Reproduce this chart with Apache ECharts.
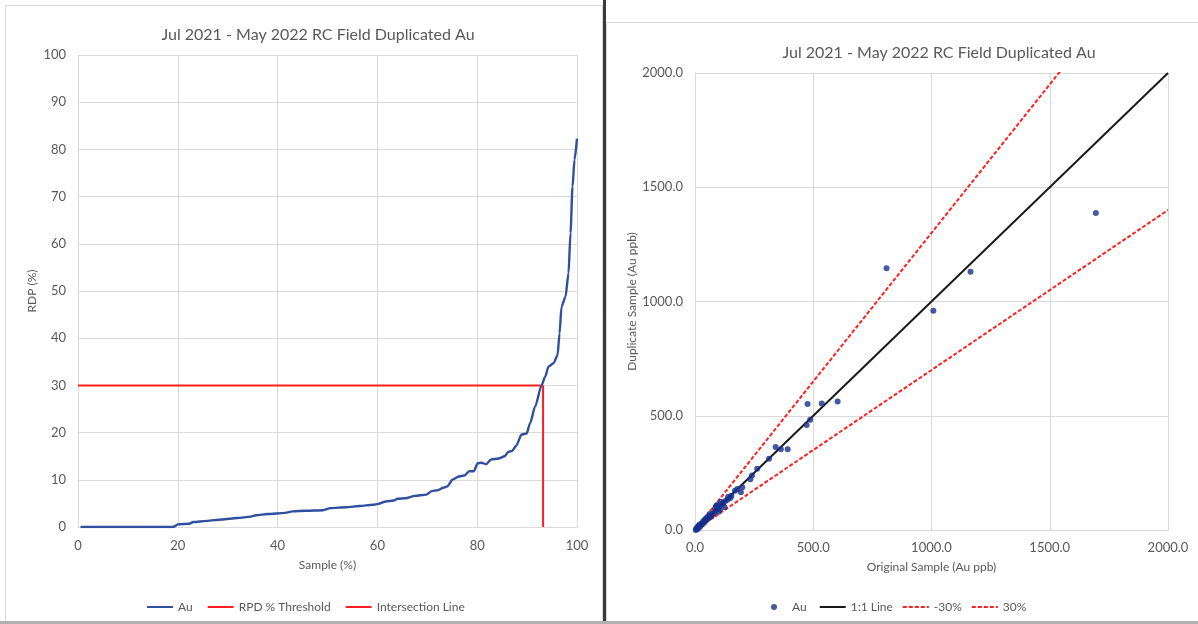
<!DOCTYPE html>
<html>
<head>
<meta charset="utf-8">
<script src="https://cdn.jsdelivr.net/npm/echarts@6/dist/echarts.min.js"></script>
<style>
  html, body { margin: 0; padding: 0; background: #ffffff; }
  #chart { width: 1198px; height: 624px; }
</style>
</head>
<body>
<div id="chart"></div>
<script>
// ---- Data ----
const chartTitle = 'Jul 2021 - May 2022 RC Field Duplicated Au';

// Cumulative RPD curve: [sample %, RPD %]
const auRpd = [
  [0.5,0],[5,0],[10,0],[15,0],[18.9,0],[19.3,0.1],[20,0.55],[22.3,0.7],[23.1,1.05],
  [25.8,1.3],[28.8,1.6],[31.9,1.9],[34.6,2.2],[35.7,2.5],[38,2.75],[41.5,3.0],
  [43,3.3],[45.7,3.45],[49.1,3.55],[50.6,4.0],[53.7,4.2],[56.4,4.45],[59.1,4.7],
  [60.2,4.9],[61.7,5.4],[63.3,5.6],[64,6.0],[65.6,6.1],[67.5,6.6],[69.8,6.85],
  [70.9,7.6],[72.1,7.8],[73.2,8.3],[74,8.6],[75.1,10.1],[76.3,10.7],[77.4,10.9],
  [78.4,11.8],[79.3,11.8],[80.1,13.5],[80.9,13.6],[81.8,13.3],[82.8,14.3],
  [84.3,14.5],[85.5,15.0],[86.2,15.9],[87,16.1],[87.8,17.2],[88.9,19.6],
  [89.9,19.8],[90.6,22],[91.6,25.5],[92.9,30],[93.6,31.8],[94.3,34],[95.3,34.7],
  [96.1,36.4],[96.5,41],[96.9,46.7],[97.7,48.8],[98.3,53.8],[98.7,62.3],
  [99.1,72.1],[99.5,77.8],[100,82.3]
];
const rpdThreshold = [[0,30],[93.2,30]];
const intersectionLine = [[93.2,0],[93.2,30]];
const pctTicks = { xInterval: 20, yInterval: 10, max: 100 };

// Original vs duplicate Au (ppb)
const auPairs = [
  [1695,1387],[810,1145],[1165,1130],[1008,960],[476,551],[536,554],[603,562],
  [472,459],[487,482],[341,363],[363,353],[392,353],[313,312],[263,268],[241,238],
  [234,222],[200,187],[194,165],[179,179],[169,172],[154,150],[139,135],[130,128],
  [115,113],[101,99],[90,106],[87,84],[104,91],[120,118],[110,124],[96,110],
  [80,76],[73,69],[66,62],[59,54],[52,47],[45,40],[38,32],[31,25],[24,18],[17,10],
  [10,3],[3,0],[5,6],[12,14],[20,24],[28,30],[42,46],[55,58],[62,70],[70,60],
  [85,95],[125,100],[100,80],[140,145],[150,140],[8,9],[15,19],[35,38],[48,52]
];
const oneToOne = [[0,0],[2000,2000]];
const minus30 = [[0,0],[2000,1400]];
const plus30 = [[0,0],[2000,2600]];
const ppbTicks = { interval: 500, max: 2000 };

// ---- Styling ----
const FONT = 'Lato, "Open Sans", sans-serif';
const TXT = '#595959';
const GRID = '#d9d9d9';
const RED = '#ff1f1f';
const NO_DOT = { color: 'rgba(0,0,0,0)', borderWidth: 0 };

function axisBase(extra) {
  return Object.assign({
    type: 'value',
    min: 0,
    axisLine: { show: true, lineStyle: { color: GRID, width: 1 } },
    axisTick: { show: false },
    splitLine: { show: true, lineStyle: { color: GRID, width: 1 } },
    axisLabel: { color: TXT, fontFamily: FONT, fontSize: 13 },
    nameLocation: 'middle',
    nameTextStyle: { color: TXT, fontFamily: FONT, fontSize: 12 }
  }, extra);
}

const chart = echarts.init(document.getElementById('chart'), null, { renderer: 'canvas' });

chart.setOption({
  backgroundColor: '#ffffff',
  animation: false,
  title: [
    { text: chartTitle, left: 313, top: 22, textAlign: 'center',
      textStyle: { color: TXT, fontFamily: FONT, fontSize: 16, fontWeight: 'normal' } },
    { text: chartTitle, left: 934, top: 40, textAlign: 'center',
      textStyle: { color: TXT, fontFamily: FONT, fontSize: 16, fontWeight: 'normal' } }
  ],
  legend: [
    { data: [
        { name: 'Au', itemStyle: NO_DOT },
        { name: 'RPD % Threshold', itemStyle: NO_DOT },
        { name: 'Intersection Line', itemStyle: NO_DOT }
      ],
      left: 141, top: 596, itemWidth: 26, itemHeight: 6, itemGap: 14,
      textStyle: { color: TXT, fontFamily: FONT, fontSize: 12 } },
    { data: [
        { name: 'Au ' },
        { name: '1:1 Line', itemStyle: NO_DOT },
        { name: '-30%', itemStyle: NO_DOT },
        { name: '30%', itemStyle: NO_DOT }
      ],
      left: 766, top: 596, itemWidth: 26, itemHeight: 6, itemGap: 9,
      textStyle: { color: TXT, fontFamily: FONT, fontSize: 12 } }
  ],
  grid: [
    { left: 78, right: 621, top: 55, bottom: 97 },
    { left: 695, right: 30, top: 73, bottom: 94 }
  ],
  xAxis: [
    axisBase({ gridIndex: 0, max: pctTicks.max, interval: pctTicks.xInterval,
      name: 'Sample (%)', nameGap: 32, axisLabel: { color: TXT, fontFamily: FONT, fontSize: 13, margin: 12 } }),
    axisBase({ gridIndex: 1, max: ppbTicks.max, interval: ppbTicks.interval,
      name: 'Original Sample (Au ppb)', nameGap: 31,
      axisLabel: { color: TXT, fontFamily: FONT, fontSize: 13, margin: 11,
        formatter: v => v.toFixed(1) } })
  ],
  yAxis: [
    axisBase({ gridIndex: 0, max: pctTicks.max, interval: pctTicks.yInterval,
      name: 'RDP (%)', nameGap: 40, axisLabel: { color: TXT, fontFamily: FONT, fontSize: 13, margin: 12 } }),
    axisBase({ gridIndex: 1, max: ppbTicks.max, interval: ppbTicks.interval,
      name: 'Duplicate Sample (Au ppb)', nameGap: 56,
      axisLabel: { color: TXT, fontFamily: FONT, fontSize: 13, margin: 12,
        formatter: v => v.toFixed(1) } })
  ],
  series: [
    { name: 'Au', type: 'line', xAxisIndex: 0, yAxisIndex: 0, data: auRpd,
      symbol: 'none', smooth: 0.25, smoothMonotone: 'x',
      lineStyle: { color: '#2f509f', width: 2.4 }, itemStyle: { color: '#2f509f' }, z: 3 },
    { name: 'RPD % Threshold', type: 'line', xAxisIndex: 0, yAxisIndex: 0, data: rpdThreshold,
      symbol: 'none', lineStyle: { color: RED, width: 2 }, itemStyle: { color: RED }, z: 2 },
    { name: 'Intersection Line', type: 'line', xAxisIndex: 0, yAxisIndex: 0, data: intersectionLine,
      symbol: 'none', lineStyle: { color: RED, width: 2 }, itemStyle: { color: RED }, z: 2 },

    { name: '1:1 Line', type: 'line', xAxisIndex: 1, yAxisIndex: 1, data: oneToOne,
      symbol: 'none', clip: true, lineStyle: { color: '#1a1a1a', width: 2 }, itemStyle: { color: '#1a1a1a' }, z: 2 },
    { name: '-30%', type: 'line', xAxisIndex: 1, yAxisIndex: 1, data: minus30,
      symbol: 'none', clip: true, lineStyle: { color: RED, width: 2, type: [4, 2] }, itemStyle: { color: RED }, z: 2 },
    { name: '30%', type: 'line', xAxisIndex: 1, yAxisIndex: 1, data: plus30,
      symbol: 'none', clip: true, lineStyle: { color: RED, width: 2, type: [4, 2] }, itemStyle: { color: RED }, z: 2 },
    { name: 'Au ', type: 'scatter', xAxisIndex: 1, yAxisIndex: 1, data: auPairs,
      symbol: 'circle', symbolSize: 6, itemStyle: { color: '#16308c' }, z: 4 }
  ],
  graphic: [
    { type: 'rect', shape: { x: 5.5, y: 5.5, width: 597, height: 616 },
      style: { fill: 'none', stroke: '#d9d9d9', lineWidth: 1 }, silent: true },
    { type: 'rect', shape: { x: 606.5, y: 22.5, width: 600, height: 599 },
      style: { fill: 'none', stroke: '#d9d9d9', lineWidth: 1 }, silent: true },
    { type: 'rect', shape: { x: 603, y: 0, width: 3, height: 624 },
      style: { fill: '#3a3a3a' }, silent: true },
    { type: 'rect', shape: { x: 0, y: 621, width: 1198, height: 3 },
      style: { fill: '#b0b0b0' }, silent: true }
  ]
});
</script>
</body>
</html>
